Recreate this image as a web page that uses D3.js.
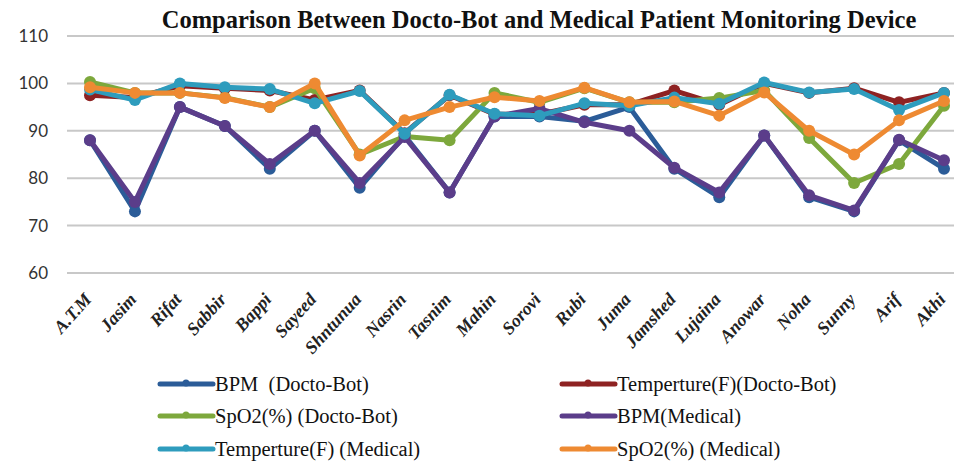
<!DOCTYPE html>
<html><head><meta charset="utf-8">
<script src="https://cdn.jsdelivr.net/npm/d3@7/dist/d3.min.js"></script>
<style>body{margin:0;background:#fff}svg{display:block}</style>
</head><body>
<svg id="chart" width="954" height="463"></svg>
<script>
const categories = ["A.T.M","Jasim","Rifat","Sabbir","Bappi","Sayeed","Shntunua","Nasrin","Tasnim","Mahin","Sorovi","Rubi","Juma","Jamshed","Lujaina","Anowar","Noha","Sunny","Arif","Akhi"];
const bpmDocto   = [88,73,95,91,82,90,78,89,77,93,93,92,95,82,76,89,76,73,88,82];
const tempDocto  = [97.5,97,99.5,99,98.5,96.5,98.5,89.5,97.5,93.5,93.5,95.5,95.5,98.5,95.5,100,98,99,96,98];
const spo2Docto  = [100.3,98,98,97,95,99,85,88.8,88,98,96,99,96,96,96.9,98.5,88.5,79,83,95.3];
const bpmMed     = [88,75,95,91,83,90,79,88.7,77,93,94.7,91.8,90,82.2,77,89,76.4,73.2,88.1,83.8];
const tempMed    = [98.7,96.5,100,99.2,98.8,95.8,98.4,89.4,97.6,93.6,93.2,95.8,95.3,97,95.7,100.2,98.1,98.8,94.4,98];
const spo2Med    = [99.2,98,98,96.9,95,100,84.8,92.2,95,97.1,96.3,99.1,96,96.2,93.2,98.1,90,85,92.2,96.3];
const seriesNames = ["BPM\u00a0\u00a0(Docto-Bot)","Temperture(F)(Docto-Bot)","SpO2(%) (Docto-Bot)","BPM(Medical)","Temperture(F) (Medical)","SpO2(%) (Medical)"];
const yTicks = [60,70,80,90,100,110];
const titleText = "Comparison Between Docto-Bot and Medical Patient Monitoring Device";

const seriesValues = [bpmDocto, tempDocto, spo2Docto, bpmMed, tempMed, spo2Med];
const colors = ["#2B5C98","#8E2222","#7DA83C","#5B3D8A","#2E9CBD","#EE8A32"];

const svg = d3.select("#chart");
const x = d3.scalePoint().domain(categories).range([90, 944]);
const y = d3.scaleLinear().domain([60, 110]).range([273, 36]);

// gridlines
svg.append("g").selectAll("line").data(yTicks).join("line")
  .attr("x1", 67).attr("x2", 954)
  .attr("y1", d => y(d)).attr("y2", d => y(d))
  .attr("stroke", "#c8c8c8").attr("stroke-width", 2);

// y axis labels
const yAxis = d3.axisLeft(y).tickValues(yTicks).tickSize(0).tickPadding(0);
const yg = svg.append("g").attr("transform", "translate(48,0)").call(yAxis);
yg.select(".domain").remove();
yg.selectAll("text").attr("font-family", "Lato, 'Open Sans', sans-serif").attr("font-size", 17).attr("fill", "#333");

// x axis labels
const xAxis = d3.axisBottom(x).tickSize(0).tickPadding(0);
const xg = svg.append("g").attr("transform", "translate(0,300)").call(xAxis);
xg.select(".domain").remove();
xg.selectAll("text")
  .attr("font-family", "'Liberation Serif', 'Times New Roman', serif")
  .attr("font-weight", "bold").attr("font-style", "italic")
  .attr("font-size", 18).attr("fill", "#222")
  .attr("text-anchor", "end").attr("dy", "0").attr("y", 0)
  .attr("transform", "translate(2,0) rotate(-48)");

// lines
const line = d3.line().x((d, i) => x(categories[i])).y(d => y(d));
seriesValues.forEach((vals, s) => {
  const g = svg.append("g");
  g.append("path").datum(vals).attr("d", line)
    .attr("fill", "none").attr("stroke", colors[s]).attr("stroke-width", 5)
    .attr("stroke-linejoin", "round");
  g.selectAll("circle").data(vals).join("circle")
    .attr("cx", (d, i) => x(categories[i])).attr("cy", d => y(d))
    .attr("r", 6).attr("fill", colors[s]);
});

// title
svg.append("text").attr("x", 539).attr("y", 28).attr("text-anchor", "middle")
  .attr("font-family", "'Liberation Serif', 'Times New Roman', serif")
  .attr("font-weight", "bold").attr("font-size", 24.5).attr("fill", "#111")
  .text(titleText);

// legend
const legPos = [[160,384],[562,384],[160,416],[562,416],[160,449],[562,449]];
seriesNames.forEach((name, s) => {
  const [lx, ly] = legPos[s];
  const g = svg.append("g");
  g.append("line").attr("x1", lx).attr("x2", lx + 53).attr("y1", ly).attr("y2", ly)
    .attr("stroke", colors[s]).attr("stroke-width", 5).attr("stroke-linecap", "round");
  g.append("circle").attr("cx", lx + 26).attr("cy", ly - 1).attr("r", 3.5).attr("fill", colors[s]);
  g.append("text").attr("x", lx + 55).attr("y", ly).attr("dy", "0.35em")
    .attr("font-family", "'Liberation Serif', 'Times New Roman', serif")
    .attr("font-size", 20.5).attr("fill", "#111")
    .text(name);
});
</script>
</body></html>
